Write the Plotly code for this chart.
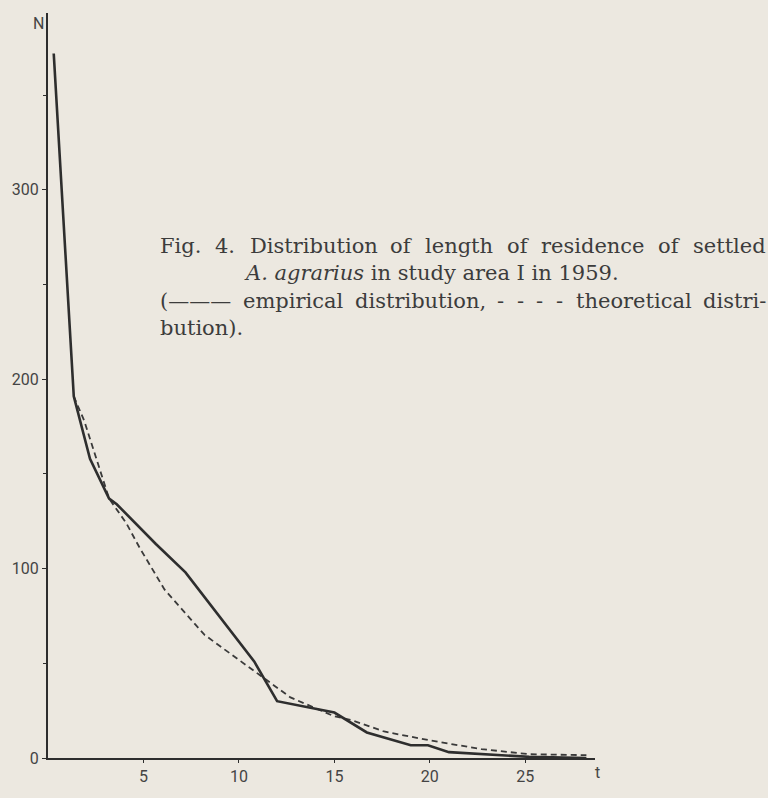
import plotly.graph_objects as go

# Empirical distribution (solid line)
emp_t = [0.3, 1.35, 2.2, 3.2, 3.6, 5.65, 7.2, 10.8, 12.0, 15.0, 16.7, 17.9, 19.0, 19.9, 21.0, 25.2, 28.2]
emp_n = [372, 191, 158, 137, 134, 113, 98, 51, 30, 24, 13.5, 10, 6.7, 6.7, 3.1, 0.6, 0]

# Theoretical distribution (dashed line)
theo_t = [1.35, 1.9, 3.2, 4.1, 4.8, 6.1, 8.2, 9.95, 11.3, 12.7, 15.0, 15.9, 17.6, 20.0, 22.7, 25.2, 28.2]
theo_n = [191, 178, 137, 124, 111, 89, 65, 52, 42, 32, 22, 20, 14, 9.3, 4.7, 2.0, 1.5]

y_ticks = [0, 100, 200, 300]
y_minor = [50, 150, 250, 350]
x_ticks = [5, 10, 15, 20, 25]

caption_line1 = "Fig. 4. Distribution of length of residence of settled"
caption_line2 = "<i>A. agrarius</i> in study area I in 1959."
caption_line3 = "(——— empirical distribution, - - - - theoretical distri-"
caption_line4 = "bution)."

BG = "#ECE8E0"
INK = "#2e2e2e"
TXT = "#3c3c3c"

W, H = 768, 798
ML, MR, MT, MB = 42, 173, 13, 27

fig = go.Figure()
fig.add_trace(go.Scatter(x=theo_t, y=theo_n, mode="lines",
                         line=dict(color="#3a3a3a", width=1.8, dash="6px,4px"),
                         showlegend=False, hoverinfo="skip"))
fig.add_trace(go.Scatter(x=emp_t, y=emp_n, mode="lines",
                         line=dict(color=INK, width=2.6),
                         showlegend=False, hoverinfo="skip"))

tick_font = dict(family="Liberation Sans Narrow, Roboto, sans-serif", size=16, color="#444")

fig.update_layout(
    width=W, height=H,
    margin=dict(l=ML, r=MR, t=MT, b=MB, pad=0),
    paper_bgcolor=BG, plot_bgcolor=BG,
    xaxis=dict(range=[0, 28.65], tickvals=x_ticks, ticktext=[str(v) for v in x_ticks],
               showgrid=False, zeroline=False, showline=True, linecolor=INK, linewidth=2,
               ticks="outside", ticklen=3, tickwidth=1.2, tickcolor=INK,
               tickfont=tick_font),
    yaxis=dict(range=[0, 393.4], tickvals=y_ticks, ticktext=[str(v) for v in y_ticks],
               showgrid=False, zeroline=False, showline=True, linecolor=INK, linewidth=2,
               ticks="outside", ticklen=4, tickwidth=1.2, tickcolor=INK,
               tickfont=tick_font,
               minor=dict(tickvals=y_minor, ticks="outside", ticklen=3,
                          tickwidth=1.2, tickcolor=INK)),
)


def px_to_paper(px, py):
    w = W - ML - MR
    h = H - MT - MB
    return (px - ML) / w, (H - MB - py) / h


def add_text(px, py, text, font, xanchor="left"):
    ax, ay = px_to_paper(px, py)
    fig.add_annotation(x=ax, y=ay, xref="paper", yref="paper", text=text, showarrow=False,
                       font=font, xanchor=xanchor, yanchor="middle", align="left")


add_text(32, 24, "N", tick_font, "center")
add_text(598, 786, "t", tick_font, "center")

# caption, set in a serif face and justified like the printed page
CAP_SIZE = 21
cap_font = dict(family="DejaVu Serif, serif", size=CAP_SIZE, color=TXT)
EM = {
    "a": .595, "b": .64, "c": .562, "d": .64, "e": .592, "f": .37, "g": .64, "h": .644,
    "i": .32, "l": .32, "m": .948, "n": .644, "o": .602, "p": .64, "r": .478, "s": .513,
    "t": .402, "u": .644, "y": .565, ".": .318, ",": .318, " ": .318, "-": .338,
    "(": .39, ")": .39, "—": 1.0, "F": .685, "D": .77, "A": .722, "I": .365,
}


def word_w(wd):
    return sum(EM.get(c, .636) for c in wd) * CAP_SIZE


def justified(line, x0, x1, py):
    words = line.split(" ")
    widths = [word_w(w) for w in words]
    gap = (x1 - x0 - sum(widths)) / (len(words) - 1)
    x = x0
    for wd, ww in zip(words, widths):
        add_text(x, py, wd, cap_font)
        x += ww + gap


X0, X1 = 153, 765
justified(caption_line1, X0, X1, 250)
add_text(238, 278, caption_line2, cap_font)
justified(caption_line3, X0, X1, 306)
add_text(X0, 334, caption_line4, cap_font)

fig.write_html("out.html",
               config={"displayModeBar": False},
               post_script="document.body.style.margin='0px';"
                           "document.body.style.background='#ECE8E0';"
                           "document.body.style.overflow='hidden';")
